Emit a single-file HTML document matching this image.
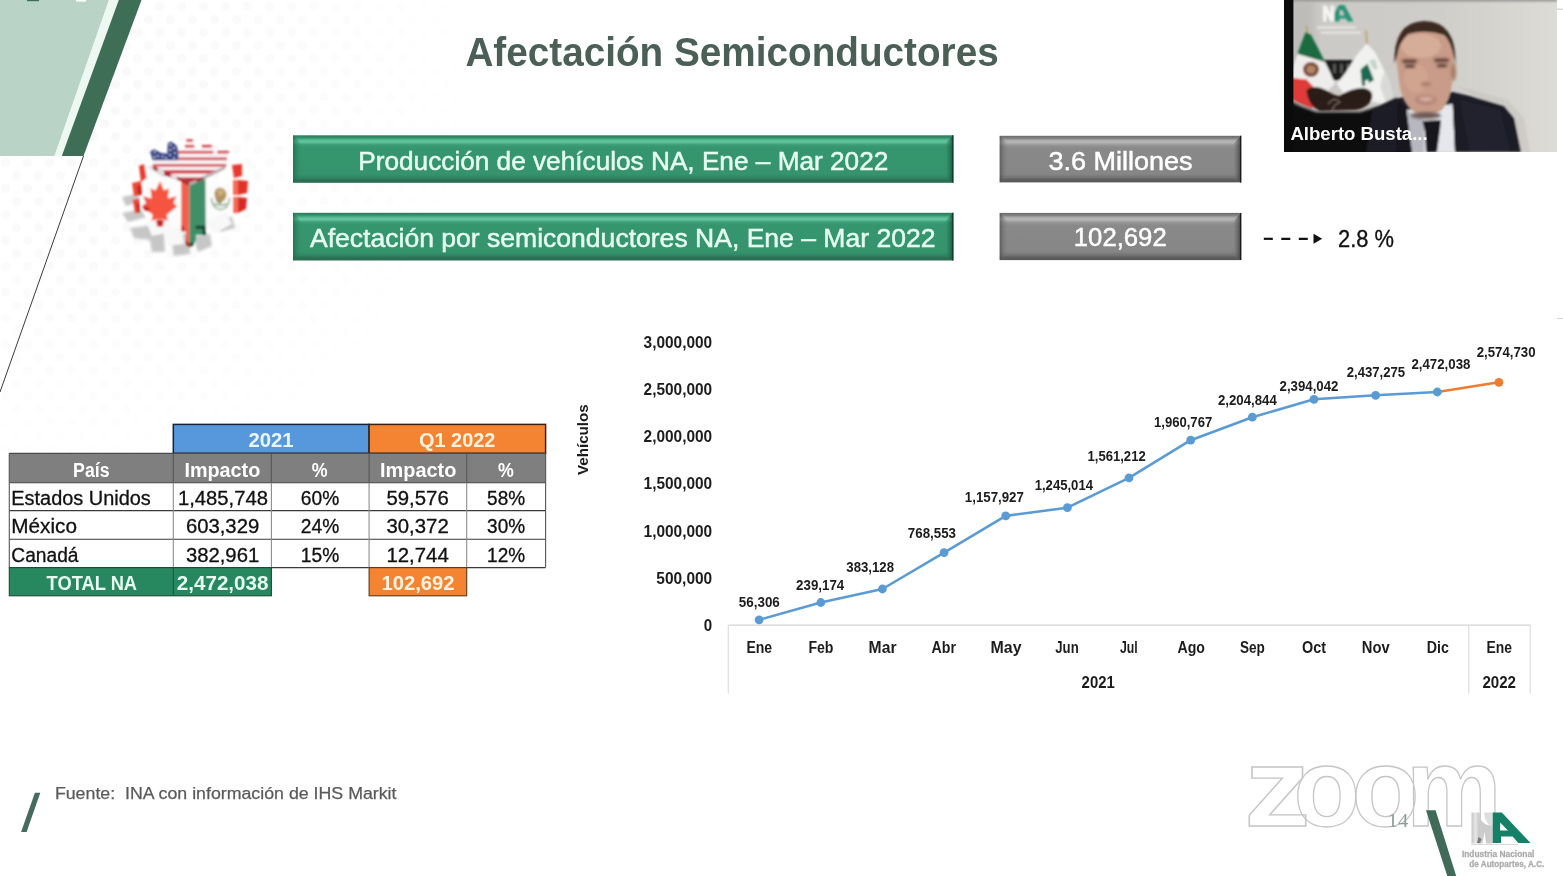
<!DOCTYPE html>
<html lang="es"><head><meta charset="utf-8"><title>Afectación Semiconductores</title>
<style>
html,body{margin:0;padding:0;background:#fff;}
body{width:1563px;height:876px;overflow:hidden;font-family:"Liberation Sans",sans-serif;}
svg{display:block;}
svg text{font-family:"Liberation Sans",sans-serif;}
</style></head><body>
<svg width="1563" height="876" viewBox="0 0 1563 876">
<defs>
<pattern id="dots" width="22" height="26" patternUnits="userSpaceOnUse">
<circle cx="5.5" cy="6.5" r="4.6" fill="#f8f9f8"/><circle cx="16.5" cy="19.5" r="4.6" fill="#f8f9f8"/>
</pattern>
<radialGradient id="fadeg" gradientUnits="userSpaceOnUse" cx="80" cy="90" r="400">
<stop offset="0" stop-color="#fff" stop-opacity="1"/><stop offset="0.45" stop-color="#fff" stop-opacity="0.75"/><stop offset="0.8" stop-color="#fff" stop-opacity="0.3"/><stop offset="1" stop-color="#fff" stop-opacity="0"/>
</radialGradient>
<mask id="fade"><rect x="0" y="0" width="620" height="620" fill="url(#fadeg)"/></mask>
<filter id="b0" x="-10%" y="-10%" width="120%" height="120%"><feGaussianBlur stdDeviation="0.45"/></filter>
<filter id="b1" x="-10%" y="-10%" width="120%" height="120%"><feGaussianBlur stdDeviation="0.8"/></filter>
<filter id="b2" x="-10%" y="-10%" width="120%" height="120%"><feGaussianBlur stdDeviation="1.6"/></filter>
<filter id="b3" x="-20%" y="-20%" width="140%" height="140%"><feGaussianBlur stdDeviation="3"/></filter>
<clipPath id="vid"><rect x="1284" y="0" width="273" height="152"/></clipPath>
<linearGradient id="wall" x1="0" y1="0" x2="1" y2="0">
<stop offset="0" stop-color="#c9c8c5"/><stop offset="0.55" stop-color="#cfcdc9"/><stop offset="1" stop-color="#dddbd5"/>
</linearGradient>
</defs>
<rect width="1563" height="876" fill="#ffffff"/>
<rect x="0" y="0" width="620" height="620" fill="url(#dots)" mask="url(#fade)"/>

<g id="corner">
<polygon points="0,0 109,0 54.5,156 0,156" fill="#b9d3c6"/>
<polygon points="109,0 118.8,0 61.8,156 54.5,156" fill="#edf8f2"/>
<polygon points="118.8,0 141.5,0 83.5,156 61.8,156" fill="#3f6e56"/>
<rect x="27" y="0" width="12" height="1.2" fill="#3f6e56"/>
<rect x="76" y="0" width="10" height="1.6" fill="#ffffff"/>
<line x1="1557" y1="318.5" x2="1563" y2="318.5" stroke="#d4d4d4" stroke-width="1"/>
<line x1="83.5" y1="156" x2="0" y2="392" stroke="#3c3c3c" stroke-width="1"/>
</g>
<text x="465.4" y="66.2" font-size="40.8" font-weight="bold" fill="#4a5f56" textLength="533.3" lengthAdjust="spacingAndGlyphs" >Afectación Semiconductores</text>
<defs>
<linearGradient id="gG" x1="0" y1="0" x2="0" y2="1">
<stop offset="0" stop-color="#2a7b5b"/><stop offset="0.05" stop-color="#33906b"/><stop offset="0.10" stop-color="#58bb96"/><stop offset="0.14" stop-color="#62c6a0"/>
<stop offset="0.20" stop-color="#3c9d76"/><stop offset="0.26" stop-color="#35966d"/><stop offset="0.82" stop-color="#35946c"/><stop offset="0.90" stop-color="#2f8363"/><stop offset="0.94" stop-color="#2b7155"/><stop offset="1" stop-color="#2a6b51"/>
</linearGradient>
<linearGradient id="gGL" x1="0" y1="0" x2="1" y2="0"><stop offset="0" stop-color="#1f6a4d" stop-opacity="0.75"/><stop offset="0.5" stop-color="#27795a" stop-opacity="0.45"/><stop offset="1" stop-color="#2f8a66" stop-opacity="0.1"/></linearGradient>
<linearGradient id="gGR" x1="1" y1="0" x2="0" y2="0"><stop offset="0" stop-color="#0f3d2c" stop-opacity="0.95"/><stop offset="0.2" stop-color="#1c5a42" stop-opacity="0.8"/><stop offset="0.7" stop-color="#27795a" stop-opacity="0.45"/><stop offset="1" stop-color="#2f8a66" stop-opacity="0.05"/></linearGradient>
<linearGradient id="gK" x1="0" y1="0" x2="0" y2="1">
<stop offset="0" stop-color="#6a6a6a"/><stop offset="0.05" stop-color="#808080"/><stop offset="0.10" stop-color="#adadad"/><stop offset="0.14" stop-color="#b6b6b6"/>
<stop offset="0.21" stop-color="#939393"/><stop offset="0.27" stop-color="#898989"/><stop offset="0.82" stop-color="#868686"/><stop offset="0.90" stop-color="#727272"/><stop offset="0.94" stop-color="#5e5e5e"/><stop offset="1" stop-color="#585858"/>
</linearGradient>
<linearGradient id="gKL" x1="0" y1="0" x2="1" y2="0"><stop offset="0" stop-color="#4a4a4a" stop-opacity="0.7"/><stop offset="0.5" stop-color="#6a6a6a" stop-opacity="0.4"/><stop offset="1" stop-color="#808080" stop-opacity="0.05"/></linearGradient>
<linearGradient id="gKR" x1="1" y1="0" x2="0" y2="0"><stop offset="0" stop-color="#1a1a1a" stop-opacity="0.95"/><stop offset="0.2" stop-color="#4a4a4a" stop-opacity="0.85"/><stop offset="0.7" stop-color="#6e6e6e" stop-opacity="0.5"/><stop offset="1" stop-color="#808080" stop-opacity="0.05"/></linearGradient>
</defs>
<rect x="293" y="135.3" width="660.3" height="47.5" fill="url(#gG)"/>
<polygon points="293,135.3 301,143.3 301,178.0 293,182.8" fill="url(#gGL)"/>
<polygon points="953.3,135.3 945.3,143.3 945.3,178.0 953.3,182.8" fill="url(#gGR)"/>
<line x1="952.7" y1="135.3" x2="952.7" y2="182.8" stroke="#123f2e" stroke-width="1.2"/>
<rect x="293" y="212.8" width="660.3" height="47.7" fill="url(#gG)"/>
<polygon points="293,212.8 301,220.8 301,255.7 293,260.5" fill="url(#gGL)"/>
<polygon points="953.3,212.8 945.3,220.8 945.3,255.7 953.3,260.5" fill="url(#gGR)"/>
<line x1="952.7" y1="212.8" x2="952.7" y2="260.5" stroke="#123f2e" stroke-width="1.2"/>
<rect x="999.7" y="135.8" width="241.5" height="46.6" fill="url(#gK)"/>
<polygon points="999.7,135.8 1007.7,143.8 1007.7,177.6 999.7,182.4" fill="url(#gKL)"/>
<polygon points="1241.2,135.8 1233.2,143.8 1233.2,177.6 1241.2,182.4" fill="url(#gKR)"/>
<line x1="1240.6" y1="135.8" x2="1240.6" y2="182.4" stroke="#1c1c1c" stroke-width="1.2"/>
<rect x="999.7" y="212.9" width="241.5" height="47.2" fill="url(#gK)"/>
<polygon points="999.7,212.9 1007.7,220.9 1007.7,255.3 999.7,260.1" fill="url(#gKL)"/>
<polygon points="1241.2,212.9 1233.2,220.9 1233.2,255.3 1241.2,260.1" fill="url(#gKR)"/>
<line x1="1240.6" y1="212.9" x2="1240.6" y2="260.1" stroke="#1c1c1c" stroke-width="1.2"/>
<text x="358.3" y="169.5" font-size="26.6" font-weight="normal" fill="#e6fdf0" textLength="530.0" lengthAdjust="spacingAndGlyphs"  stroke="#e6fdf0" stroke-width="0.5">Producción de vehículos NA, Ene – Mar 2022</text>
<text x="310.0" y="246.7" font-size="26.6" font-weight="normal" fill="#e6fdf0" textLength="625.5" lengthAdjust="spacingAndGlyphs"  stroke="#e6fdf0" stroke-width="0.5">Afectación por semiconductores NA, Ene – Mar 2022</text>
<text x="1048.4" y="169.8" font-size="26.6" font-weight="normal" fill="#ffffff" textLength="144.2" lengthAdjust="spacingAndGlyphs"  stroke="#ffffff" stroke-width="0.5">3.6 Millones</text>
<text x="1073.8" y="245.8" font-size="26.6" font-weight="normal" fill="#ffffff" textLength="92.9" lengthAdjust="spacingAndGlyphs"  stroke="#ffffff" stroke-width="0.5">102,692</text>
<line x1="1263.8" y1="238.8" x2="1313" y2="238.8" stroke="#111" stroke-width="2.2" stroke-dasharray="9 8.5"/>
<polygon points="1313.5,233.8 1322.2,238.8 1313.5,243.8" fill="#111"/>
<text x="1338.0" y="247.3" font-size="23.5" font-weight="normal" fill="#111" textLength="55.9" lengthAdjust="spacingAndGlyphs"  stroke="#111" stroke-width="0.35">2.8 %</text>
<g id="table">
<rect x="173.3" y="424.4" width="195.8" height="28.9" fill="#5797dc" stroke="#14253a" stroke-width="1.5"/>
<rect x="369.1" y="424.4" width="176.5" height="28.9" fill="#f58432" stroke="#3a2210" stroke-width="1.5"/>
<rect x="9.3" y="453.3" width="536.3" height="29.4" fill="#7f7f7f"/>
<line x1="9.3" y1="453.3" x2="9.3" y2="482.7" stroke="#5a5a5a" stroke-width="1.2"/>
<line x1="173.3" y1="453.3" x2="173.3" y2="482.7" stroke="#5a5a5a" stroke-width="1.2"/>
<line x1="271.4" y1="453.3" x2="271.4" y2="482.7" stroke="#5a5a5a" stroke-width="1.2"/>
<line x1="369.1" y1="453.3" x2="369.1" y2="482.7" stroke="#5a5a5a" stroke-width="1.2"/>
<line x1="466.7" y1="453.3" x2="466.7" y2="482.7" stroke="#5a5a5a" stroke-width="1.2"/>
<line x1="545.6" y1="453.3" x2="545.6" y2="482.7" stroke="#5a5a5a" stroke-width="1.2"/>
<line x1="9.3" y1="453.3" x2="545.6" y2="453.3" stroke="#4a4a4a" stroke-width="1.2"/>
<rect x="9.3" y="482.7" width="536.3" height="84.9" fill="#ffffff"/>
<line x1="9.3" y1="482.7" x2="545.6" y2="482.7" stroke="#3a3a3a" stroke-width="1.1"/>
<line x1="9.3" y1="510.6" x2="545.6" y2="510.6" stroke="#3a3a3a" stroke-width="1.1"/>
<line x1="9.3" y1="539.3" x2="545.6" y2="539.3" stroke="#3a3a3a" stroke-width="1.1"/>
<line x1="9.3" y1="567.6" x2="545.6" y2="567.6" stroke="#3a3a3a" stroke-width="1.1"/>
<line x1="9.3" y1="482.7" x2="9.3" y2="567.6" stroke="#555" stroke-width="1.1"/>
<line x1="173.3" y1="482.7" x2="173.3" y2="567.6" stroke="#8c8c8c" stroke-width="1.1"/>
<line x1="271.4" y1="482.7" x2="271.4" y2="567.6" stroke="#8c8c8c" stroke-width="1.1"/>
<line x1="369.1" y1="482.7" x2="369.1" y2="567.6" stroke="#8c8c8c" stroke-width="1.1"/>
<line x1="466.7" y1="482.7" x2="466.7" y2="567.6" stroke="#8c8c8c" stroke-width="1.1"/>
<line x1="545.6" y1="482.7" x2="545.6" y2="567.6" stroke="#555" stroke-width="1.1"/>
<rect x="9.3" y="567.6" width="262.1" height="28.2" fill="#27875f" stroke="#1c4a37" stroke-width="1.1"/>
<line x1="173.3" y1="567.6" x2="173.3" y2="595.8" stroke="#1c5a40" stroke-width="1.1"/>
<rect x="369.1" y="567.6" width="97.6" height="28.2" fill="#f58432" stroke="#5a3a1a" stroke-width="1.1"/>
<text x="248.4" y="447.4" font-size="19.5" font-weight="bold" fill="#e8f6ff" textLength="45.2" lengthAdjust="spacingAndGlyphs" >2021</text>
<text x="419.0" y="447.4" font-size="19.5" font-weight="bold" fill="#fff3e0" textLength="76.4" lengthAdjust="spacingAndGlyphs" >Q1 2022</text>
<text x="73.1" y="476.6" font-size="19.5" font-weight="bold" fill="#ffffff" textLength="36.4" lengthAdjust="spacingAndGlyphs" >País</text>
<text x="184.4" y="476.6" font-size="19.5" font-weight="bold" fill="#ffffff" textLength="75.9" lengthAdjust="spacingAndGlyphs" >Impacto</text>
<text x="311.8" y="476.6" font-size="19.5" font-weight="bold" fill="#ffffff" textLength="15.8" lengthAdjust="spacingAndGlyphs" >%</text>
<text x="380.0" y="476.6" font-size="19.5" font-weight="bold" fill="#ffffff" textLength="76.3" lengthAdjust="spacingAndGlyphs" >Impacto</text>
<text x="498.0" y="476.6" font-size="19.5" font-weight="bold" fill="#ffffff" textLength="15.8" lengthAdjust="spacingAndGlyphs" >%</text>
<text x="11.3" y="504.7" font-size="19.5" font-weight="normal" fill="#111" textLength="139.5" lengthAdjust="spacingAndGlyphs"  stroke="#111" stroke-width="0.3">Estados Unidos</text>
<text x="177.9" y="504.7" font-size="19.5" font-weight="normal" fill="#111" textLength="90.0" lengthAdjust="spacingAndGlyphs"  stroke="#111" stroke-width="0.3">1,485,748</text>
<text x="300.8" y="504.7" font-size="19.5" font-weight="normal" fill="#111" textLength="38.4" lengthAdjust="spacingAndGlyphs"  stroke="#111" stroke-width="0.3">60%</text>
<text x="386.5" y="504.7" font-size="19.5" font-weight="normal" fill="#111" textLength="62.2" lengthAdjust="spacingAndGlyphs"  stroke="#111" stroke-width="0.3">59,576</text>
<text x="487.1" y="504.7" font-size="19.5" font-weight="normal" fill="#111" textLength="38.0" lengthAdjust="spacingAndGlyphs"  stroke="#111" stroke-width="0.3">58%</text>
<text x="11.3" y="533.3" font-size="19.5" font-weight="normal" fill="#111" textLength="65.7" lengthAdjust="spacingAndGlyphs"  stroke="#111" stroke-width="0.3">México</text>
<text x="185.9" y="533.3" font-size="19.5" font-weight="normal" fill="#111" textLength="73.3" lengthAdjust="spacingAndGlyphs"  stroke="#111" stroke-width="0.3">603,329</text>
<text x="300.8" y="533.3" font-size="19.5" font-weight="normal" fill="#111" textLength="38.4" lengthAdjust="spacingAndGlyphs"  stroke="#111" stroke-width="0.3">24%</text>
<text x="386.5" y="533.3" font-size="19.5" font-weight="normal" fill="#111" textLength="62.2" lengthAdjust="spacingAndGlyphs"  stroke="#111" stroke-width="0.3">30,372</text>
<text x="487.1" y="533.3" font-size="19.5" font-weight="normal" fill="#111" textLength="38.0" lengthAdjust="spacingAndGlyphs"  stroke="#111" stroke-width="0.3">30%</text>
<text x="11.3" y="561.5" font-size="19.5" font-weight="normal" fill="#111" textLength="67.2" lengthAdjust="spacingAndGlyphs"  stroke="#111" stroke-width="0.3">Canadá</text>
<text x="185.9" y="561.5" font-size="19.5" font-weight="normal" fill="#111" textLength="73.3" lengthAdjust="spacingAndGlyphs"  stroke="#111" stroke-width="0.3">382,961</text>
<text x="300.8" y="561.5" font-size="19.5" font-weight="normal" fill="#111" textLength="38.4" lengthAdjust="spacingAndGlyphs"  stroke="#111" stroke-width="0.3">15%</text>
<text x="386.5" y="561.5" font-size="19.5" font-weight="normal" fill="#111" textLength="62.2" lengthAdjust="spacingAndGlyphs"  stroke="#111" stroke-width="0.3">12,744</text>
<text x="487.1" y="561.5" font-size="19.5" font-weight="normal" fill="#111" textLength="38.0" lengthAdjust="spacingAndGlyphs"  stroke="#111" stroke-width="0.3">12%</text>
<text x="46.6" y="590.4" font-size="19.5" font-weight="bold" fill="#e6fff0" textLength="90.5" lengthAdjust="spacingAndGlyphs" >TOTAL NA</text>
<text x="176.8" y="590.4" font-size="19.5" font-weight="bold" fill="#e6fff0" textLength="91.7" lengthAdjust="spacingAndGlyphs" >2,472,038</text>
<text x="381.5" y="590.4" font-size="19.5" font-weight="bold" fill="#fff3e0" textLength="73.1" lengthAdjust="spacingAndGlyphs" >102,692</text>
</g>
<g id="chart">
<line x1="728.3" y1="625.1" x2="1530.2" y2="625.1" stroke="#d4d4d4" stroke-width="1.3"/>
<line x1="728.3" y1="625.1" x2="728.3" y2="693.5" stroke="#e0e0e0" stroke-width="1.3"/>
<line x1="1468.8" y1="625.1" x2="1468.8" y2="693.5" stroke="#e0e0e0" stroke-width="1.3"/>
<line x1="1530.2" y1="625.1" x2="1530.2" y2="693.5" stroke="#e0e0e0" stroke-width="1.3"/>
<text x="703.8" y="630.8" font-size="16.0" font-weight="bold" fill="#1c1c1c" textLength="8.4" lengthAdjust="spacingAndGlyphs" >0</text>
<text x="656.3" y="583.7" font-size="16.0" font-weight="bold" fill="#1c1c1c" textLength="55.9" lengthAdjust="spacingAndGlyphs" >500,000</text>
<text x="643.6" y="536.5" font-size="16.0" font-weight="bold" fill="#1c1c1c" textLength="68.6" lengthAdjust="spacingAndGlyphs" >1,000,000</text>
<text x="643.6" y="489.4" font-size="16.0" font-weight="bold" fill="#1c1c1c" textLength="68.6" lengthAdjust="spacingAndGlyphs" >1,500,000</text>
<text x="643.6" y="442.2" font-size="16.0" font-weight="bold" fill="#1c1c1c" textLength="68.6" lengthAdjust="spacingAndGlyphs" >2,000,000</text>
<text x="643.6" y="395.1" font-size="16.0" font-weight="bold" fill="#1c1c1c" textLength="68.6" lengthAdjust="spacingAndGlyphs" >2,500,000</text>
<text x="643.6" y="347.9" font-size="16.0" font-weight="bold" fill="#1c1c1c" textLength="68.6" lengthAdjust="spacingAndGlyphs" >3,000,000</text>
<text transform="translate(588.2,475.1) rotate(-90)" font-size="15" font-weight="bold" fill="#1c1c1c" textLength="70.9" lengthAdjust="spacingAndGlyphs">Vehículos</text>
<polyline points="759.1,619.8 820.8,602.5 882.4,589.0 944.1,552.6 1005.7,515.9 1067.4,507.7 1129.0,477.9 1190.7,440.2 1252.3,417.2 1314.0,399.3 1375.6,395.3 1437.3,392.0" fill="none" stroke="#5b9bd5" stroke-width="2.6" stroke-linejoin="round" stroke-linecap="round"/>
<line x1="1437.3" y1="392.0" x2="1498.9" y2="382.3" stroke="#ed7d31" stroke-width="2.6" stroke-linecap="round"/>
<circle cx="759.1" cy="619.8" r="4.4" fill="#5b9bd5"/>
<circle cx="820.8" cy="602.5" r="4.4" fill="#5b9bd5"/>
<circle cx="882.4" cy="589.0" r="4.4" fill="#5b9bd5"/>
<circle cx="944.1" cy="552.6" r="4.4" fill="#5b9bd5"/>
<circle cx="1005.7" cy="515.9" r="4.4" fill="#5b9bd5"/>
<circle cx="1067.4" cy="507.7" r="4.4" fill="#5b9bd5"/>
<circle cx="1129.0" cy="477.9" r="4.4" fill="#5b9bd5"/>
<circle cx="1190.7" cy="440.2" r="4.4" fill="#5b9bd5"/>
<circle cx="1252.3" cy="417.2" r="4.4" fill="#5b9bd5"/>
<circle cx="1314.0" cy="399.3" r="4.4" fill="#5b9bd5"/>
<circle cx="1375.6" cy="395.3" r="4.4" fill="#5b9bd5"/>
<circle cx="1437.3" cy="392.0" r="4.4" fill="#5b9bd5"/>
<circle cx="1498.9" cy="382.3" r="4.4" fill="#ed7d31"/>
<text x="738.8" y="607.3" font-size="14.3" font-weight="bold" fill="#1c1c1c" textLength="41.0" lengthAdjust="spacingAndGlyphs" >56,306</text>
<text x="796.1" y="589.7" font-size="14.3" font-weight="bold" fill="#1c1c1c" textLength="48.2" lengthAdjust="spacingAndGlyphs" >239,174</text>
<text x="846.3" y="572.1" font-size="14.3" font-weight="bold" fill="#1c1c1c" textLength="47.7" lengthAdjust="spacingAndGlyphs" >383,128</text>
<text x="907.8" y="538.2" font-size="14.3" font-weight="bold" fill="#1c1c1c" textLength="48.2" lengthAdjust="spacingAndGlyphs" >768,553</text>
<text x="964.8" y="502.3" font-size="14.3" font-weight="bold" fill="#1c1c1c" textLength="59.1" lengthAdjust="spacingAndGlyphs" >1,157,927</text>
<text x="1034.7" y="489.9" font-size="14.3" font-weight="bold" fill="#1c1c1c" textLength="58.3" lengthAdjust="spacingAndGlyphs" >1,245,014</text>
<text x="1087.5" y="461.1" font-size="14.3" font-weight="bold" fill="#1c1c1c" textLength="58.2" lengthAdjust="spacingAndGlyphs" >1,561,212</text>
<text x="1154.0" y="427.2" font-size="14.3" font-weight="bold" fill="#1c1c1c" textLength="58.2" lengthAdjust="spacingAndGlyphs" >1,960,767</text>
<text x="1218.0" y="405.3" font-size="14.3" font-weight="bold" fill="#1c1c1c" textLength="58.8" lengthAdjust="spacingAndGlyphs" >2,204,844</text>
<text x="1279.6" y="390.8" font-size="14.3" font-weight="bold" fill="#1c1c1c" textLength="58.8" lengthAdjust="spacingAndGlyphs" >2,394,042</text>
<text x="1346.7" y="377.0" font-size="14.3" font-weight="bold" fill="#1c1c1c" textLength="58.5" lengthAdjust="spacingAndGlyphs" >2,437,275</text>
<text x="1411.4" y="368.7" font-size="14.3" font-weight="bold" fill="#1c1c1c" textLength="59.0" lengthAdjust="spacingAndGlyphs" >2,472,038</text>
<text x="1476.7" y="356.9" font-size="14.3" font-weight="bold" fill="#1c1c1c" textLength="58.8" lengthAdjust="spacingAndGlyphs" >2,574,730</text>
<text x="746.4" y="653.4" font-size="16.3" font-weight="bold" fill="#1c1c1c" textLength="25.8" lengthAdjust="spacingAndGlyphs" >Ene</text>
<text x="808.4" y="653.4" font-size="16.3" font-weight="bold" fill="#1c1c1c" textLength="25.1" lengthAdjust="spacingAndGlyphs" >Feb</text>
<text x="868.6" y="653.4" font-size="16.3" font-weight="bold" fill="#1c1c1c" textLength="27.9" lengthAdjust="spacingAndGlyphs" >Mar</text>
<text x="931.6" y="653.4" font-size="16.3" font-weight="bold" fill="#1c1c1c" textLength="24.4" lengthAdjust="spacingAndGlyphs" >Abr</text>
<text x="990.5" y="653.4" font-size="16.3" font-weight="bold" fill="#1c1c1c" textLength="31.0" lengthAdjust="spacingAndGlyphs" >May</text>
<text x="1055.3" y="653.4" font-size="16.3" font-weight="bold" fill="#1c1c1c" textLength="23.4" lengthAdjust="spacingAndGlyphs" >Jun</text>
<text x="1120.0" y="653.4" font-size="16.3" font-weight="bold" fill="#1c1c1c" textLength="17.8" lengthAdjust="spacingAndGlyphs" >Jul</text>
<text x="1177.5" y="653.4" font-size="16.3" font-weight="bold" fill="#1c1c1c" textLength="27.5" lengthAdjust="spacingAndGlyphs" >Ago</text>
<text x="1240.0" y="653.4" font-size="16.3" font-weight="bold" fill="#1c1c1c" textLength="24.9" lengthAdjust="spacingAndGlyphs" >Sep</text>
<text x="1302.0" y="653.4" font-size="16.3" font-weight="bold" fill="#1c1c1c" textLength="24.0" lengthAdjust="spacingAndGlyphs" >Oct</text>
<text x="1361.8" y="653.4" font-size="16.3" font-weight="bold" fill="#1c1c1c" textLength="27.9" lengthAdjust="spacingAndGlyphs" >Nov</text>
<text x="1426.7" y="653.4" font-size="16.3" font-weight="bold" fill="#1c1c1c" textLength="22.1" lengthAdjust="spacingAndGlyphs" >Dic</text>
<text x="1486.6" y="653.4" font-size="16.3" font-weight="bold" fill="#1c1c1c" textLength="25.5" lengthAdjust="spacingAndGlyphs" >Ene</text>
<text x="1081.6" y="687.9" font-size="16.3" font-weight="bold" fill="#1c1c1c" textLength="33.2" lengthAdjust="spacingAndGlyphs" >2021</text>
<text x="1482.4" y="687.9" font-size="16.3" font-weight="bold" fill="#1c1c1c" textLength="33.6" lengthAdjust="spacingAndGlyphs" >2022</text>
</g>
<polygon points="34.9,792.8 40.3,792.8 26.6,831.9 21.1,831.9" fill="#466b5c"/>
<text x="54.9" y="798.6" font-size="17.3" font-weight="normal" fill="#5a5a5a" textLength="341.6" lengthAdjust="spacingAndGlyphs" xml:space="preserve" style="white-space:pre" stroke="#5a5a5a" stroke-width="0.25">Fuente:  INA con información de IHS Markit</text>
<text y="826.3" font-size="111.0" font-weight="bold" fill="none" stroke="#c6c6c6" stroke-width="1.3"><tspan x="1243.9" textLength="66.5" lengthAdjust="spacingAndGlyphs">z</tspan><tspan x="1293.5" textLength="66.5" lengthAdjust="spacingAndGlyphs">o</tspan><tspan x="1351.4" textLength="68.0" lengthAdjust="spacingAndGlyphs">o</tspan><tspan x="1405.9" textLength="95.6" lengthAdjust="spacingAndGlyphs">m</tspan></text>
<text x="1387.6" y="826.8" font-size="19" fill="#8f9e99" textLength="20.8" lengthAdjust="spacingAndGlyphs" style="font-family:'Liberation Serif',serif">14</text>
<polygon points="1426,810.3 1435.6,810.3 1456.2,876 1447.3,876" fill="#3f6b58"/>
<g id="inalogo">
<defs><linearGradient id="lgI" x1="0" y1="0" x2="1" y2="0"><stop offset="0" stop-color="#c6c6c6"/><stop offset="0.45" stop-color="#e6e6e6"/><stop offset="1" stop-color="#bdbdbd"/></linearGradient></defs>
<g filter="url(#b0)">
<polygon points="1471.5,812.6 1479.5,812.6 1480.5,843.4 1471.5,843.4" fill="url(#lgI)"/>
<path d="M1479.5 816 Q1481 824 1492.7 827 L1492.7 843.4 L1486 843.4 L1484.5 832 L1482.5 843.4 L1479.5 843.4 Z" fill="#cccccc"/>
<path d="M1484 812.6 L1492.7 812.6 L1492.7 827 Q1485 824 1484 812.6 Z" fill="#dedede"/>
<polygon points="1478.5,837 1481.5,839 1480,843 1477,843" fill="#7a7a7a"/>
<line x1="1471" y1="844.6" x2="1518" y2="844.6" stroke="#d8d8d8" stroke-width="1"/>
</g>
<polygon points="1492.7,812.6 1501.8,812.6 1530.5,843 1518.3,843 1512.6,836.4 1501,836.4 1501,843 1492.7,843" fill="#148068"/>
<polygon points="1500.1,822.6 1507.9,830.4 1500.1,830.4" fill="#ffffff"/>
<text x="1461.9" y="857.2" font-size="9.1" font-weight="bold" fill="#acacac" textLength="72.5" lengthAdjust="spacingAndGlyphs"  stroke="#acacac" stroke-width="0.3">Industria Nacional</text>
<text x="1469.3" y="866.8" font-size="9.1" font-weight="bold" fill="#acacac" textLength="75.0" lengthAdjust="spacingAndGlyphs"  stroke="#acacac" stroke-width="0.3">de Autopartes, A.C.</text>
</g>
<g id="gear">
<!-- soft shadows -->
<g filter="url(#b2)" fill="#c6c6c6">
<polygon points="122,197 137,194 141,201 126,206"/>
<polygon points="122,213 143,209 147,217 128,222"/>
<polygon points="130,228 160,224 166,232 150,240 134,238"/>
<polygon points="149,236 164,234 165,252 152,252"/>
<polygon points="170,232 189,230 190,254 174,256"/>
<polygon points="193,236 210,234 212,246 198,252"/>
<polygon points="216,218 232,217 235,228 220,232"/>
<polygon points="147,167 154,164 182,180 180,188" fill="#dcdcdc"/>
</g>
<g filter="url(#b1)">
<!-- white gear body -->
<ellipse cx="187" cy="204" rx="46" ry="30" fill="#fcfcfc"/>
<polygon points="146,222 166,216 172,232 152,236" fill="#f8f8f8"/>
<polygon points="164,230 182,226 184,244 168,246" fill="#f8f8f8"/>
<polygon points="206,222 226,212 232,224 214,234" fill="#f8f8f8"/>
<!-- left red teeth -->
<polygon points="139,166 144,164 146,178 141,182" fill="#e8372c"/>
<polygon points="132,183 141,181 142,195 134,196" fill="#ee4638"/>
<polygon points="137,186 141,185 142,195 138,195" fill="#c9251d"/>
<polygon points="133,200 139,199 140,212 135,213" fill="#ec4136"/>
<polygon points="137,204 140,203 140,212 138,213" fill="#c9251d"/>
<!-- right red teeth -->
<polygon points="232,165 242,164 242,176 234,178" fill="#e9382d"/>
<polygon points="233,180 238,180 238,195 233,195" fill="#f86a55"/>
<polygon points="238,180 248,181 247,193 238,195" fill="#e0302a"/>
<polygon points="233,197 238,197 238,213 233,213" fill="#f86a55"/>
<polygon points="238,197 247,198 246,209 238,213" fill="#d62a26"/>
<!-- maple leaf -->
<g transform="translate(160,204) scale(1.12) translate(-160,-204)"><polygon points="160.2,183.7 163.5,192 168,190 167,199 174.8,197 172,203 175.5,206 166,213.5 167,219 160.8,217.5 160.8,224 158.8,224 158.8,217.5 152.5,219 153.5,213.5 144,206 147.5,203 144.7,197 152.5,199 151.5,190 156,192" fill="#f5553f"/>
<polygon points="143.7,205.5 150,207 151,211 146,210" fill="#c8201a"/>
<polygon points="156.5,218.5 163.5,218.5 162.5,224 157.5,224" fill="#c8201a"/></g>
<!-- mexican emblem -->
<path d="M211.5 198 Q212 208.5 220.5 209.5 Q229 208.5 229.5 198" fill="none" stroke="#a9bda6" stroke-width="2"/>
<path d="M214.5 203.5 Q220.5 207.5 226.5 203.5" fill="none" stroke="#8aa792" stroke-width="1.6"/>
<path d="M214.5 195 Q214 188 220 187.5 Q226.5 188 226.5 195 Q225.5 201.5 220.5 202 Q215.5 201 214.5 195 Z" fill="#b59462"/>
<path d="M217 190 Q221 187 225 191 Q223 196 218.5 196 Z" fill="#c9ad7c"/>
<path d="M215 198 Q218 202 222 201 L221 204 Q217 204 215 198 Z" fill="#8f8a5c"/>
<!-- pillar -->
<polygon points="181.2,180 189.4,184.5 189.4,244 185.8,242 185.8,232 181.2,230" fill="#f2604d"/>
<polygon points="189.4,184.5 205.4,177.7 205.8,234.8 195.8,234.8 195.8,240 193,246 189.4,244" fill="#3f8f68"/>
<polygon points="195.8,225.7 205.8,225.7 205.8,234.8 202.5,234.8 202.5,229 195.8,229" fill="#0f4a2e"/>
<polygon points="181.2,226 184,226 184,232 181.2,231" fill="#c8201a"/>
<polygon points="185.8,240 189.4,244 193,246 189,247 186,244.5" fill="#a02018"/>
<polygon points="189.4,243 193,242 193,246 189.4,246" fill="#14502f"/>
<!-- US flag top -->
<polygon points="150.2,151.7 154.1,149.2 161.1,153.1 167.4,153.8 167.8,143.3 171,141.5 176.6,145.4 178.4,150 185,150 185,144.5 186.4,144.5 186.4,139.2 192.8,139.2 192.8,144.5 194.2,144.5 194.2,150 201.9,150 201.9,144.8 211.8,144.8 211.8,150 213.2,150.5 217.4,153 217.4,150.8 229,151 225.9,165.8 210.4,172.8 196.3,179.9 189.3,182.7 182.2,178.4 168.1,172.8 153,165.8 152.7,160.1" fill="#fbf4f5"/>
<g fill="#cf3340">
<rect x="186.4" y="139.3" width="6.4" height="2.5"/>
<rect x="185" y="144.9" width="9.2" height="2.6"/><rect x="201.9" y="144.9" width="9.9" height="2.6"/>
<rect x="178.4" y="150.9" width="34.8" height="2.5"/><rect x="217.4" y="150.9" width="11.4" height="2.5"/>
<rect x="178.4" y="157.6" width="48.6" height="2.5"/>
<polygon points="152.8,163.9 226.3,163.9 225.9,166.4 154,166.4"/>
<polygon points="162,170 216.5,170 209,173.4 169.5,173.4"/>
<polygon points="180,177.4 201,177.4 196.3,179.9 189.3,182.7 184,179.6" fill="#b82633"/>
</g>
<polygon points="150.2,151.7 154.1,149.2 161.1,153.1 167.4,153.8 167.8,143.3 171,141.5 176.6,145.4 178.4,151.7 178.4,160.2 152.7,160.2" fill="#2f3d80"/>
<g fill="#e4e8f8"><circle cx="154.8" cy="152.2" r="0.9"/><circle cx="158" cy="156" r="0.9"/><circle cx="154.5" cy="157" r="0.9"/><circle cx="162.5" cy="156.5" r="0.9"/><circle cx="166" cy="158" r="0.9"/><circle cx="170" cy="155" r="0.9"/><circle cx="174" cy="158" r="0.9"/><circle cx="170.5" cy="145" r="0.9"/><circle cx="174" cy="148" r="0.9"/><circle cx="170.5" cy="150" r="0.9"/><circle cx="175" cy="153" r="0.9"/></g>
<!-- 3d sides -->
<polygon points="153,165.8 168.1,172.8 182.2,178.4 189.3,182.7 189.4,186 181.2,181.5 167,176 153.5,169" fill="#a7222f"/>
<polygon points="158,168.2 164,171 164,174.6 158,171.6" fill="#e9e4e4"/>
<polygon points="171,174 177,176.5 177,180 171,177.3" fill="#e9e4e4"/>
<polygon points="189.3,182.7 196.3,179.9 210.4,172.8 225.9,165.8 225,169 205.4,178.5 189.4,186" fill="#b8a9ab"/>
<polygon points="196.3,179.9 203,176.5 203,179.5 197,182.5" fill="#9c2230"/>
</g>
</g>

<g id="video" clip-path="url(#vid)">
<rect x="1284" y="0" width="273" height="152" fill="url(#wall)"/>
<rect x="1284" y="0" width="30" height="152" fill="#b4b3b0" opacity="0.55" filter="url(#b3)"/>
<g filter="url(#b1)">
<rect x="1284" y="-2" width="273" height="3.6" fill="#9d9c9a"/>
<!-- wall logo -->
<polygon points="1323,5.5 1326.5,5.5 1330.5,14 1330.5,5.5 1334,5.5 1334,21.5 1330.5,21.5 1326.5,13 1326.5,21.5 1323,21.5" fill="#f6f6f4"/>
<polygon points="1339,5 1344.5,5 1353.5,21.5 1347.5,21.5 1346,18.5 1339.5,18.5 1339.5,21.5 1334.5,21.5 1334.5,13" fill="#2a9478"/>
<polygon points="1340,10.5 1342.2,10.5 1344.2,15.2 1340,15.2" fill="#cfcdc9"/>
<rect x="1317" y="26.3" width="39" height="2.3" fill="#e6e5e2"/>
<rect x="1321" y="31.6" width="39.5" height="2.3" fill="#e6e5e2"/>
<!-- dark shelf behind flags -->
<polygon points="1322,60 1356,60 1356,80 1322,80" fill="#1c1c1c"/>
<g fill="#6a6a68"><rect x="1333.5" y="64" width="2" height="9"/><rect x="1340.5" y="64" width="2" height="9"/><rect x="1347" y="64" width="2" height="9"/></g>
<!-- flag poles -->
<line x1="1306.5" y1="26" x2="1308" y2="50" stroke="#b9a066" stroke-width="1.6"/>
<line x1="1366" y1="30.5" x2="1367" y2="46" stroke="#b9a066" stroke-width="1.6"/>
<!-- mexican flag -->
<polygon points="1305.7,32 1311,35 1318,48 1325,62 1316,59.5 1297.5,54 1301,44" fill="#1f6a3f"/>
<polygon points="1297.5,54 1316,59.5 1325,62 1330,72 1335,84 1326,92 1315,88.5 1306.5,79.6 1290.6,77.9 1294,64" fill="#efedec"/>
<ellipse cx="1311" cy="69.5" rx="8" ry="7.4" fill="#7e4f3e"/>
<ellipse cx="1311" cy="69.5" rx="4.4" ry="4" fill="#b28668"/>
<polygon points="1290.6,77.9 1306.5,79.6 1315,88.5 1316,100 1312,108.5 1299,103 1287,96.5" fill="#df3b38"/>
<!-- white INA flag -->
<polygon points="1366.7,43.4 1375,52 1383,68 1389.7,83 1394,100 1384,104 1364,100 1344,94 1336.6,84 1346,72 1356,56" fill="#f1f1ef"/>
<polygon points="1384,72 1390,84 1394,100 1386,103 1380,86" fill="#d9dad8"/>
<polygon points="1362,68 1367.5,63.7 1374,80 1369,83 1367.6,79.5 1364.6,81.2 1365.6,85 1362.2,86.5 1360.5,70" fill="#1f6b52"/>
<polygon points="1369,60.5 1375,59 1378,68 1374,70" fill="#c5d6cc"/>
<!-- flag base (dark) -->
<path d="M1306.5 90 Q1314 84 1326 90 Q1334 96 1340 96 Q1350 88 1364 88 Q1374 90 1372 99 Q1368 108 1356 110 L1320 111 Q1308 106 1306.5 90 Z" fill="#2a1c19"/>
<path d="M1328 104 q6 -8 12 -2 q-6 2 -8 8" fill="none" stroke="#8a7a74" stroke-width="1"/>
</g>
<!-- dark lower-left -->
<g filter="url(#b2)">
<polygon points="1284,98 1300,106 1316,112 1360,112 1380,106 1396,98 1406,104 1412,156 1284,156" fill="#0b0b0d"/>
</g>
<rect x="1284" y="0" width="9.4" height="152" fill="#0a0a0a"/>
<!-- person (abstract blobs) -->
<g filter="url(#b1)">
<!-- wall shadow by shoulder -->
<polygon points="1456,86 1508,100 1524,118 1530,152 1512,152 1504,112" fill="#bdbbb6" opacity="0.4"/>
<!-- suit -->
<polygon points="1372,110 1397.7,99 1410,94 1452.6,92 1470,96 1504,106 1514,118 1521,152 1366,152" fill="#1b1c27"/>
<polygon points="1460,100 1500,110 1510,152 1470,152" fill="#23242f"/>
<!-- shirt -->
<polygon points="1406.5,110 1452.6,104 1455,152 1412,152" fill="#e6e7ec"/>
<polygon points="1406.5,110 1424,120 1424,152 1412,152" fill="#b7b8bf"/>
<!-- lapels over shirt -->
<polygon points="1452.6,100 1458,108 1462,152 1455,152" fill="#1b1c27"/>
<polygon points="1398,100 1406.5,110 1412,152 1396,152" fill="#16171f"/>
<!-- tie -->
<polygon points="1422.5,121 1441,120 1440,130 1437,152 1426,152 1425,132" fill="#16161b"/>
<!-- head -->
<path d="M1395 50 Q1396 24 1424 23 Q1454 24 1454 56 L1452 84 Q1450 100 1442 110 Q1428 118 1414 112 Q1404 104 1400 88 Z" fill="#c89c88"/>
<ellipse cx="1421" cy="46" rx="20" ry="12" fill="#d5ad99"/>
<ellipse cx="1416" cy="78" rx="12" ry="14" fill="#d0a590"/>
<!-- hair -->
<path d="M1394.5 64 Q1393 22 1424 21 Q1457 21 1455.5 66 Q1452 42 1444 35 Q1426 29 1408 34 Q1399 42 1397 56 Z" fill="#3a2a24"/>
<!-- brows/eyes -->
<g filter="url(#b1)">
<rect x="1402" y="59.5" width="15" height="3.4" rx="1.6" fill="#5a3a30"/>
<rect x="1434" y="58.5" width="15" height="3.4" rx="1.6" fill="#5a3a30"/>
<rect x="1405" y="65" width="10" height="2.6" rx="1.3" fill="#3a2620"/>
<rect x="1437" y="64.5" width="10" height="2.6" rx="1.3" fill="#3a2620"/>
<ellipse cx="1426" cy="84" rx="5" ry="2.6" fill="#ae806c"/>
<ellipse cx="1426" cy="100" rx="11" ry="5" fill="#b48578"/>
<ellipse cx="1426" cy="99" rx="7" ry="1.8" fill="#dcb8ad"/>
<ellipse cx="1426" cy="115.5" rx="15" ry="3.6" fill="#6e5a54"/>
<ellipse cx="1453.5" cy="72" rx="2.6" ry="9" fill="#a87c68"/>
</g>
</g>
<text x="1290.4" y="139.7" font-size="18.9" font-weight="bold" fill="#ffffff" textLength="137.3" lengthAdjust="spacingAndGlyphs">Alberto Busta...</text>
</g>
<line x1="1557" y1="9.2" x2="1563" y2="9.2" stroke="#c8c8c8" stroke-width="1"/>

</svg></body></html>
